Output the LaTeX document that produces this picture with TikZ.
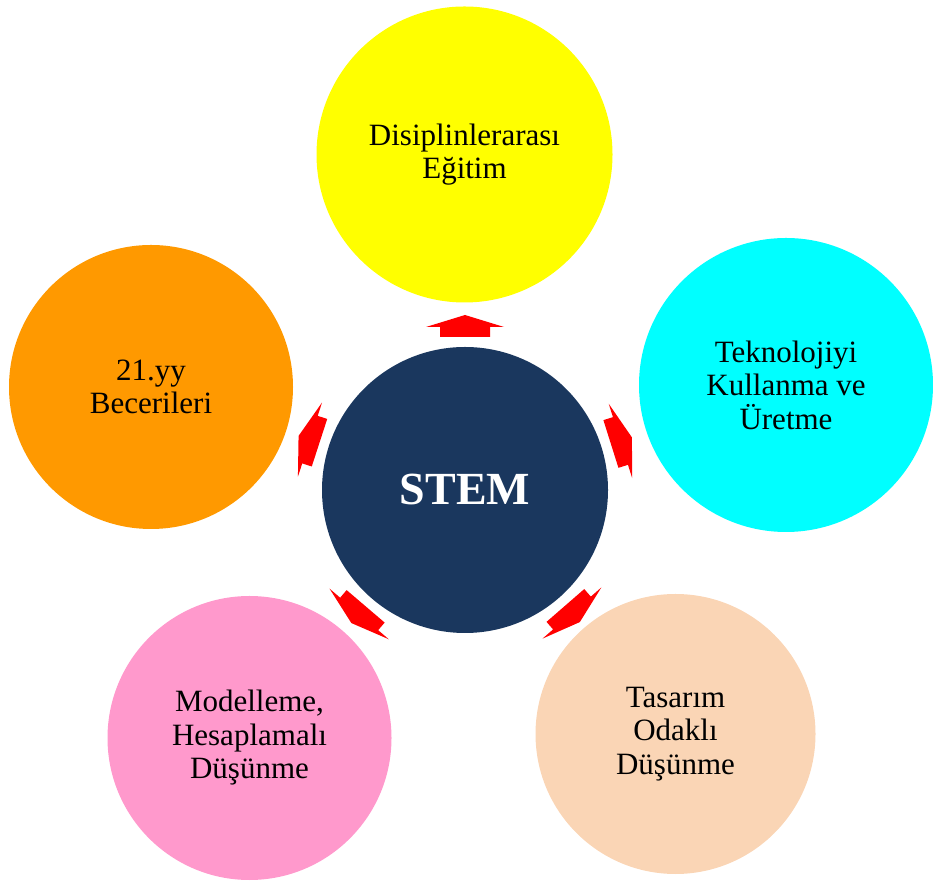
\documentclass[tikz,border=0pt]{standalone}
\usepackage{fontspec}
\setmainfont{Liberation Serif}
\definecolor{stemnavy}{HTML}{1A375E}
\definecolor{cyellow}{HTML}{FFFF00}
\definecolor{ccyan}{HTML}{00FFFF}
\definecolor{cpeach}{HTML}{FAD5B5}
\definecolor{cpink}{HTML}{FF99CC}
\definecolor{corange}{HTML}{FF9900}
\definecolor{arrowred}{HTML}{FF0000}
\tikzset{
  bubble/.style={circle, inner sep=0pt, align=center, text=black,
    font=\fontsize{31}{33.5}\selectfont},
  hub/.style={circle, inner sep=0pt, fill=stemnavy, text=white,
    minimum size=286pt, font=\fontsize{46}{50}\selectfont\bfseries},
  % outward block arrow, drawn in hub-relative polar frame (x = radial)
  radarrow/.pic={
    \fill[arrowred] (175,0) -- (163,39) -- (163,25) -- (153,25)
      -- (153,-25) -- (163,-25) -- (163,-39) -- cycle;
  }
}
\begin{document}
\begin{tikzpicture}[x=1pt,y=1pt]
  \useasboundingbox (0,0) rectangle (933,885);
  \clip (0,0) rectangle (933,885);

  \node[hub] (stem) at (465,395) {STEM};

  \node[bubble, fill=cyellow, minimum size=296pt] (disc) at (464.5,730.5)
    {Disiplinlerarası\\Eğitim};
  \node[bubble, fill=ccyan, minimum size=294pt] (tech) at (786,500)
    {Teknolojiyi\\Kullanma ve\\Üretme};
  \node[bubble, fill=cpeach, minimum size=280pt] (design) at (675.5,151)
    {Tasarım\\Odaklı\\Düşünme};
  \node[bubble, fill=cpink, minimum size=284pt] (model) at (249.5,147)
    {Modelleme,\\Hesaplamalı\\Düşünme};
  \node[bubble, fill=corange, minimum size=284pt] (skills) at (151,498)
    {21.yy\\Becerileri};

  \pic[rotate=90]    at (stem.center) {radarrow};
  \pic[rotate=17.5]  at (stem.center) {radarrow};
  \pic[rotate=-49]   at (stem.center) {radarrow};
  \pic[rotate=-130.5] at (stem.center) {radarrow};
  \pic[rotate=162]   at (stem.center) {radarrow};
\end{tikzpicture}
\end{document}
